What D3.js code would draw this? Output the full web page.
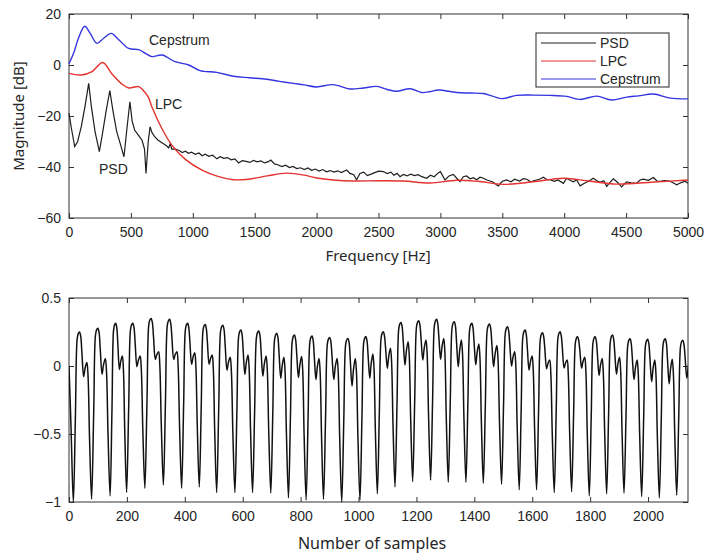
<!DOCTYPE html>
<html>
<head>
<meta charset="utf-8">
<script src="https://cdn.jsdelivr.net/npm/d3@7"></script>
<style>
  body { margin: 0; background: #fff; }
  svg text { font-family: "Liberation Sans", Arial, sans-serif; fill: #262626; }
  svg text.title { font-family: "Noto Sans", "Liberation Sans", sans-serif; }
</style>
</head>
<body>
<script>

// spectrum, [frequency Hz, magnitude dB]
var psdPoints = [[0,-19],[20,-25],[46,-32],[70,-30],[100,-24],[130,-16],[159,-7.2],[180,-16],[210,-26],[245,-34],[270,-27],[300,-18],[330,-10],[355,-18],[385,-26],[415,-31],[444,-36],[470,-24],[492,-14.4],[510,-22],[530,-25.5],[560,-27.5],[590,-29.5],[610,-33],[622,-42.5],[640,-30],[655,-24.2],[670,-26.5],[690,-28],[720,-29.5],[760,-30.8],[790,-31.8],[805,-32.5],[818,-30.8],[830,-33],[860,-33],[890,-33.5],[915,-34.3],[940,-33.8],[965,-34.6],[990,-34.2],[1020,-35],[1050,-34.5],[1075,-35.6],[1100,-35],[1130,-35.8],[1160,-35.4],[1195,-36.8],[1220,-36],[1250,-36.6],[1280,-36.3],[1310,-37.2],[1340,-36.8],[1370,-38.4],[1400,-37.5],[1430,-37.8],[1460,-38.2],[1490,-37.4],[1520,-38],[1550,-37.6],[1580,-38.4],[1610,-37.9],[1630,-37.3],[1660,-38.8],[1690,-39.2],[1720,-39.8],[1750,-39.3],[1780,-40.2],[1810,-39.8],[1840,-40.6],[1870,-40.3],[1900,-41],[1930,-40.4],[1960,-41.3],[1990,-40.8],[2020,-41.6],[2050,-41],[2080,-41.9],[2110,-41.4],[2140,-42],[2170,-41.5],[2200,-42.2],[2243,-41.2],[2270,-42.5],[2300,-43],[2323,-45],[2350,-42.5],[2380,-42],[2410,-43.4],[2440,-42.8],[2470,-42.2],[2500,-41.6],[2539,-41.8],[2570,-42.6],[2600,-42],[2625,-43.2],[2650,-42.5],[2674,-43.8],[2700,-42.9],[2730,-43.5],[2760,-42.8],[2790,-43.4],[2820,-43],[2850,-43.8],[2889,-44.4],[2920,-43.2],[2950,-43.8],[2980,-42.4],[3000,-41.8],[3037,-45.1],[3070,-43.5],[3104,-42.9],[3130,-44.3],[3158,-45.7],[3185,-43.8],[3212,-43.5],[3240,-44.6],[3266,-44.2],[3293,-45],[3320,-44],[3347,-44.4],[3380,-45.2],[3420,-45.8],[3454,-47],[3468,-47.4],[3500,-45.6],[3535,-45.1],[3570,-45.8],[3600,-44.8],[3640,-45.5],[3670,-44.6],[3697,-44.8],[3730,-45.8],[3760,-45.3],[3800,-44.8],[3832,-44],[3860,-45],[3885,-45],[3920,-45.6],[3950,-45.1],[3993,-46.4],[4020,-44.4],[4050,-45.3],[4074,-45.8],[4100,-45],[4128,-47.4],[4160,-46.5],[4200,-45.5],[4235,-44.4],[4260,-45.3],[4289,-46],[4320,-45.4],[4343,-47.6],[4370,-46],[4397,-44.6],[4430,-46],[4464,-47.8],[4490,-46.4],[4504,-45.8],[4540,-46.2],[4585,-46.4],[4610,-45.2],[4639,-44.8],[4680,-45.2],[4720,-44.1],[4750,-45.5],[4774,-45.6],[4810,-45.3],[4855,-45.6],[4890,-46.5],[4909,-47],[4940,-46.2],[4976,-45.6],[5000,-46.4]];

var lpcPoints = [[0,-3.3],[100,-3.9],[186,-2.6],[272,1.0],[347,-3.5],[428,-7.5],[482,-9.0],[563,-8.5],[600,-10],[640,-12.5],[670,-16.5],[751,-25],[832,-31.5],[940,-37],[1074,-41.2],[1209,-43.8],[1327,-45],[1450,-44.8],[1600,-43.5],[1758,-42.4],[1900,-43.2],[2000,-44.3],[2135,-45.1],[2300,-45.5],[2500,-45.4],[2700,-45.5],[2916,-46.3],[3131,-45.2],[3300,-45.6],[3508,-46.8],[3750,-45.8],[3993,-44.4],[4200,-45.5],[4424,-46.7],[4700,-46],[5000,-45.1]];

var cepPoints = [[0,0.5],[40,5],[80,11],[127,15.2],[170,12.5],[226,8.5],[280,10.5],[342,12.4],[400,10],[482,6.5],[563,6],[620,4.5],[670,3.3],[751,3.9],[856,1.3],[967,0],[1058,-2.2],[1193,-2.9],[1327,-4.4],[1460,-5],[1597,-5.6],[1700,-6.4],[1812,-7.2],[1900,-7.8],[2000,-8.6],[2134,-7.7],[2270,-9.4],[2380,-9],[2485,-8.4],[2570,-9.6],[2647,-10.3],[2754,-9.3],[2849,-10.8],[2920,-10.4],[2984,-9.8],[3131,-10.8],[3250,-11],[3347,-11.2],[3420,-12.2],[3500,-13.2],[3616,-11.9],[3750,-11.8],[3885,-11.9],[4020,-12.3],[4128,-13.5],[4262,-12.2],[4383,-13.7],[4504,-12.6],[4600,-12.1],[4720,-11.4],[4855,-13],[5000,-13.3]];

var seriesNames = ["PSD", "LPC", "Cepstrum"];
var seriesColors = ["#1e1e1e", "#e4322e", "#3535e0"];
var freqTicks = [0, 500, 1000, 1500, 2000, 2500, 3000, 3500, 4000, 4500, 5000];
var dbTicks = [-60, -40, -20, 0, 20];

// waveform, one entry per pitch period (read at each trough)
var troughN = [15,78,142,199,262,326,389,450,510,573,634,697,758,819,879,942,1005,1065,1126,1187,1249,1310,1371,1431,1494,1555,1615,1676,1736,1797,1857,1917,1978,2039,2099];
var troughV = [-1.0,-0.98,-0.955,-0.93,-0.9,-0.875,-0.9,-0.89,-0.93,-0.93,-0.93,-0.935,-0.97,-0.985,-0.98,-1.0,-0.985,-0.94,-0.89,-0.85,-0.84,-0.855,-0.855,-0.863,-0.87,-0.91,-0.91,-0.93,-0.925,-0.955,-0.94,-0.935,-0.96,-0.97,-0.95];
var peakV = [0.25,0.277,0.314,0.314,0.35,0.343,0.314,0.306,0.3,0.265,0.257,0.24,0.228,0.22,0.21,0.203,0.216,0.252,0.32,0.333,0.343,0.326,0.314,0.309,0.289,0.265,0.245,0.252,0.216,0.216,0.228,0.2,0.196,0.2,0.19];
var dipV = [-0.078,-0.06,-0.025,-0.005,0.049,0.049,0.012,0.012,-0.03,-0.06,-0.074,-0.09,-0.085,-0.1,-0.1,-0.147,-0.09,-0.017,0.007,0.044,0.049,-0.005,0.01,-0.005,0.0,-0.03,-0.02,-0.015,-0.015,-0.07,-0.06,-0.1,-0.115,-0.13,-0.09];
var peak2V = [0.025,0.056,0.074,0.074,0.105,0.105,0.098,0.081,0.064,0.081,0.074,0.064,0.07,0.056,0.056,0.056,0.088,0.13,0.179,0.191,0.203,0.191,0.162,0.15,0.105,0.074,0.044,0.044,0.064,0.056,0.064,0.044,0.044,0.05,0.05];
var waveStart = [[0, 0.0], [7, -0.45]];
var sampleTicks = [0, 200, 400, 600, 800, 1000, 1200, 1400, 1600, 1800, 2000];
var ampTicks = [-1, -0.5, 0, 0.5];
var nSamples = 2138;

window.onload = draw

function draw()
{
  var svg = d3.select("body").append("svg").attr("width", 710).attr("height", 553);

  // top panel: spectra
  var top = {left: 69, right: 688, top: 14, bottom: 218};
  var x1 = d3.scaleLinear().domain([0, 5000]).range([top.left, top.right]);
  var y1 = d3.scaleLinear().domain([-60, 20]).range([top.bottom, top.top]);
  frame(svg, top, x1, y1, freqTicks, dbTicks, d3.format("d"), d3.format("d"));

  var line1 = d3.line().x(function(d) { return x1(d[0]); }).y(function(d) { return y1(d[1]); });
  svg.append("path").attr("d", line1.curve(d3.curveLinear)(psdPoints))
     .attr("fill", "none").attr("stroke", seriesColors[0]).attr("stroke-width", 1.2);
  svg.append("path").attr("d", line1.curve(d3.curveCatmullRom)(lpcPoints))
     .attr("fill", "none").attr("stroke", seriesColors[1]).attr("stroke-width", 1.4);
  svg.append("path").attr("d", line1.curve(d3.curveCatmullRom)(cepPoints))
     .attr("fill", "none").attr("stroke", seriesColors[2]).attr("stroke-width", 1.4);

  // labels on the curves
  svg.append("text").attr("x", 149).attr("y", 45).attr("font-size", 14).text("Cepstrum");
  svg.append("text").attr("x", 155).attr("y", 109).attr("font-size", 14).text("LPC");
  svg.append("text").attr("x", 99).attr("y", 174).attr("font-size", 14).text("PSD");

  // legend
  var lg = svg.append("g").attr("transform", "translate(536,33)");
  lg.append("rect").attr("width", 133).attr("height", 54).attr("fill", "#fff").attr("stroke", "#262626");
  seriesNames.forEach(function(name, i)
  {
    var yy = 10 + i * 18;
    lg.append("line").attr("x1", 5).attr("x2", 60).attr("y1", yy).attr("y2", yy)
      .attr("stroke", seriesColors[i]).attr("stroke-width", 1.2);
    lg.append("text").attr("x", 64).attr("y", yy + 5).attr("font-size", 14).text(name);
  });

  svg.append("text").attr("class", "title").attr("x", 378).attr("y", 261).attr("text-anchor", "middle")
     .attr("font-size", 15).text("Frequency [Hz]");
  svg.append("text").attr("class", "title").attr("transform", "translate(24,116) rotate(-90)")
     .attr("text-anchor", "middle").attr("font-size", 15).text("Magnitude [dB]");

  // bottom panel: waveform
  var bot = {left: 69, right: 688, top: 298, bottom: 502};
  var x2 = d3.scaleLinear().domain([0, nSamples]).range([bot.left, bot.right]);
  var y2 = d3.scaleLinear().domain([-1, 0.5]).range([bot.bottom, bot.top]);
  frame(svg, bot, x2, y2, sampleTicks, ampTicks, d3.format("d"), function(d) { return d3.format("")(d); });

  svg.append("clipPath").attr("id", "clipwave").append("rect")
     .attr("x", bot.left).attr("y", bot.top).attr("width", bot.right - bot.left).attr("height", bot.bottom - bot.top);

  var line2 = d3.line().x(function(d) { return x2(d[0]); }).y(function(d) { return y2(d[1]); })
                .curve(d3.curveCatmullRom.alpha(0.5));
  svg.append("path").attr("d", line2(wavePoints())).attr("clip-path", "url(#clipwave)")
     .attr("fill", "none").attr("stroke", "#111").attr("stroke-width", 1.5);

  svg.append("text").attr("class", "title").attr("x", 372).attr("y", 549).attr("text-anchor", "middle")
     .attr("font-size", 16).text("Number of samples");
}

// box with inward ticks on all four sides
function frame(svg, box, x, y, xt, yt, fx, fy)
{
  var g = svg.append("g");
  g.append("g").attr("transform", "translate(0," + box.bottom + ")")
   .call(d3.axisBottom(x).tickValues(xt).tickSizeInner(-5).tickSizeOuter(0).tickPadding(9).tickFormat(fx));
  g.append("g").attr("transform", "translate(0," + box.top + ")")
   .call(d3.axisTop(x).tickValues(xt).tickSizeInner(-5).tickSizeOuter(0).tickFormat(""));
  g.append("g").attr("transform", "translate(" + box.left + ",0)")
   .call(d3.axisLeft(y).tickValues(yt).tickSizeInner(-5).tickSizeOuter(0).tickPadding(8).tickFormat(fy));
  g.append("g").attr("transform", "translate(" + box.right + ",0)")
   .call(d3.axisRight(y).tickValues(yt).tickSizeInner(-5).tickSizeOuter(0).tickFormat(""));
  g.selectAll(".domain").remove();
  g.selectAll(".tick line").attr("stroke", "#333");
  g.selectAll(".tick text").attr("font-size", 14).attr("fill", "#262626")
   .style("font-family", "'Liberation Sans', Arial, sans-serif");
  g.append("rect").attr("x", box.left).attr("y", box.top)
   .attr("width", box.right - box.left).attr("height", box.bottom - box.top)
   .attr("fill", "none").attr("stroke", "#333").attr("stroke-width", 1);
}

// key points of each period, placed relative to its trough
function wavePoints()
{
  var pts = waveStart.slice();
  troughN.forEach(function(t, i)
  {
    var next = i + 1 < troughN.length ? troughN[i + 1] : t + 62;
    var nextV = i + 1 < troughV.length ? troughV[i + 1] : troughV[i];
    var s = (next - t) / 62;
    var lo = troughV[i], pk = peakV[i], dp = dipV[i], p2 = peak2V[i];
    pts.push([t, lo]);
    pts.push([t + 7 * s, lo + (pk - lo) * 0.5]);
    pts.push([t + 13 * s, pk - 0.05]);
    pts.push([t + 17 * s, pk - 0.01]);
    pts.push([t + 21 * s, pk]);
    pts.push([t + 25 * s, pk - 0.03]);
    pts.push([t + 29 * s, dp + (pk - dp) * 0.55]);
    pts.push([t + 35 * s, dp]);
    pts.push([t + 40 * s, dp + (p2 - dp) * 0.6]);
    pts.push([t + 46 * s, p2]);
    pts.push([t + 50 * s, p2 - 0.1]);
    pts.push([t + 55 * s, p2 + (nextV - p2) * 0.55]);
  });
  return pts;
}
</script>
</body>
</html>
